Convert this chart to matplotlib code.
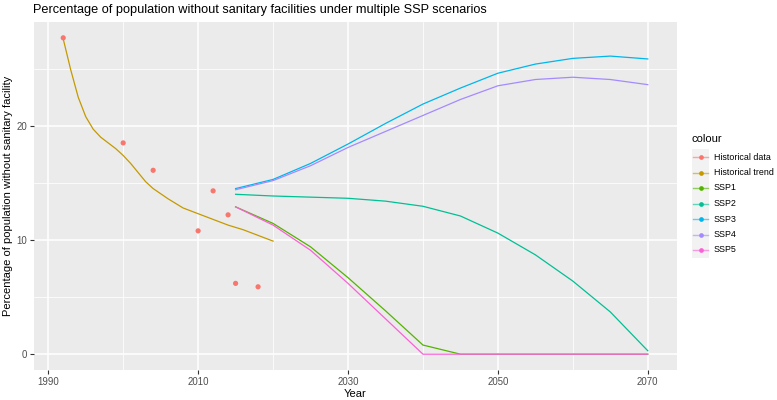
import matplotlib
matplotlib.use("Agg")
import matplotlib.pyplot as plt
from matplotlib.lines import Line2D
from matplotlib.patches import Rectangle

plt.rcParams['font.family'] = ['Liberation Sans', 'DejaVu Sans']

# observed values
hist_years = [1992, 2000, 2004, 2010, 2012, 2014, 2015, 2018]
hist_pct = [27.7, 18.5, 16.1, 10.8, 14.3, 12.2, 6.2, 5.9]

# smoothed trend
trend_years = [1992, 1993, 1994, 1995, 1996, 1997, 1998, 1999, 2000, 2001, 2002,
               2003, 2004, 2006, 2008, 2010, 2012, 2014, 2016, 2018, 2020]
trend_pct = [27.6, 24.9, 22.5, 20.8, 19.7, 19.0, 18.5, 18.0, 17.4, 16.7, 15.9,
             15.1, 14.5, 13.6, 12.8, 12.3, 11.8, 11.3, 10.9, 10.4, 9.9]

# scenarios
ssp_years = [2015, 2020, 2025, 2030, 2035, 2040, 2045, 2050, 2055, 2060, 2065, 2070]
ssp1 = [12.9, 11.45, 9.4, 6.7, 3.8, 0.8, 0, 0, 0, 0, 0, 0]
ssp2 = [14.0, 13.85, 13.75, 13.65, 13.4, 12.95, 12.1, 10.6, 8.7, 6.4, 3.7, 0.3]
ssp3 = [14.5, 15.3, 16.7, 18.4, 20.2, 21.9, 23.3, 24.6, 25.4, 25.9, 26.1, 25.85]
ssp4 = [14.4, 15.2, 16.5, 18.1, 19.5, 20.9, 22.3, 23.5, 24.05, 24.25, 24.05, 23.6]
ssp5 = [12.9, 11.3, 9.1, 6.2, 3.1, 0, 0, 0, 0, 0, 0, 0]

labels = ['Historical data', 'Historical trend', 'SSP1', 'SSP2', 'SSP3', 'SSP4', 'SSP5']
colors = ['#F8766D', '#C49A00', '#53B400', '#00C094', '#00B6EB', '#A58AFF', '#FB61D7']

W, H = 777, 400
fig = plt.figure(figsize=(W / 100, H / 100), dpi=100)
ax = fig.add_axes([34 / W, 1 - 370 / H, (677 - 34) / W, (370 - 22) / H])
ax.set_facecolor('#EBEBEB')

ax.plot(trend_years, trend_pct, color=colors[1], lw=0.9, zorder=3)
for vals, col in zip([ssp1, ssp2, ssp3, ssp4, ssp5], colors[2:]):
    ax.plot(ssp_years, vals, color=col, lw=0.9, zorder=3)
ax.scatter(hist_years, hist_pct, s=14, color=colors[0], edgecolors='none', zorder=4)

ax.set_xlim(1988.1, 2073.9)
ax.set_ylim(-1.385, 29.085)
ax.set_xticks([1990, 2010, 2030, 2050, 2070])
ax.set_xticks([2000, 2020, 2040, 2060], minor=True)
ax.set_yticks([0, 10, 20])
ax.set_yticks([5, 15, 25], minor=True)
ax.grid(which='major', color='white', lw=1.1)
ax.grid(which='minor', color='white', lw=0.55)
ax.set_axisbelow(True)
for s in ax.spines.values():
    s.set_visible(False)
ax.tick_params(which='major', length=2.7, width=0.8, color='#333333',
               labelsize=6.9, labelcolor='#4D4D4D', pad=2)
ax.tick_params(which='minor', length=0)

ax.set_xlabel('Year', fontsize=8, color='black', labelpad=2)
ax.set_ylabel('Percentage of population without sanitary facility', fontsize=8,
              color='black', labelpad=3)
fig.text(33 / W, 1 - 10 / H, 'Percentage of population without sanitary facilities under multiple SSP scenarios',
         fontsize=9.2, va='center', ha='left')

# legend, drawn by hand to look like ggplot
def fx(px):
    return px / W

def fy(py):
    return 1 - py / H

fig.text(fx(692), fy(139), 'colour', fontsize=8, va='center', ha='left')
fig.add_artist(Rectangle((fx(692), fy(258)), fx(17), 109 / H, transform=fig.transFigure,
                         facecolor='#F2F2F2', edgecolor='none'))
for i, (lab, col) in enumerate(zip(labels, colors)):
    yy = fy(157 + i * 15.5)
    fig.add_artist(Line2D([fx(693), fx(708)], [yy, yy], transform=fig.transFigure,
                          color=col, lw=1.0, alpha=0.6))
    fig.add_artist(Line2D([fx(700.5)], [yy], transform=fig.transFigure, color=col,
                          marker='o', markersize=3.4, markeredgewidth=0))
    fig.text(fx(714), yy, lab, fontsize=6.4, va='center', ha='left')

fig.savefig('out.png', dpi=100)
